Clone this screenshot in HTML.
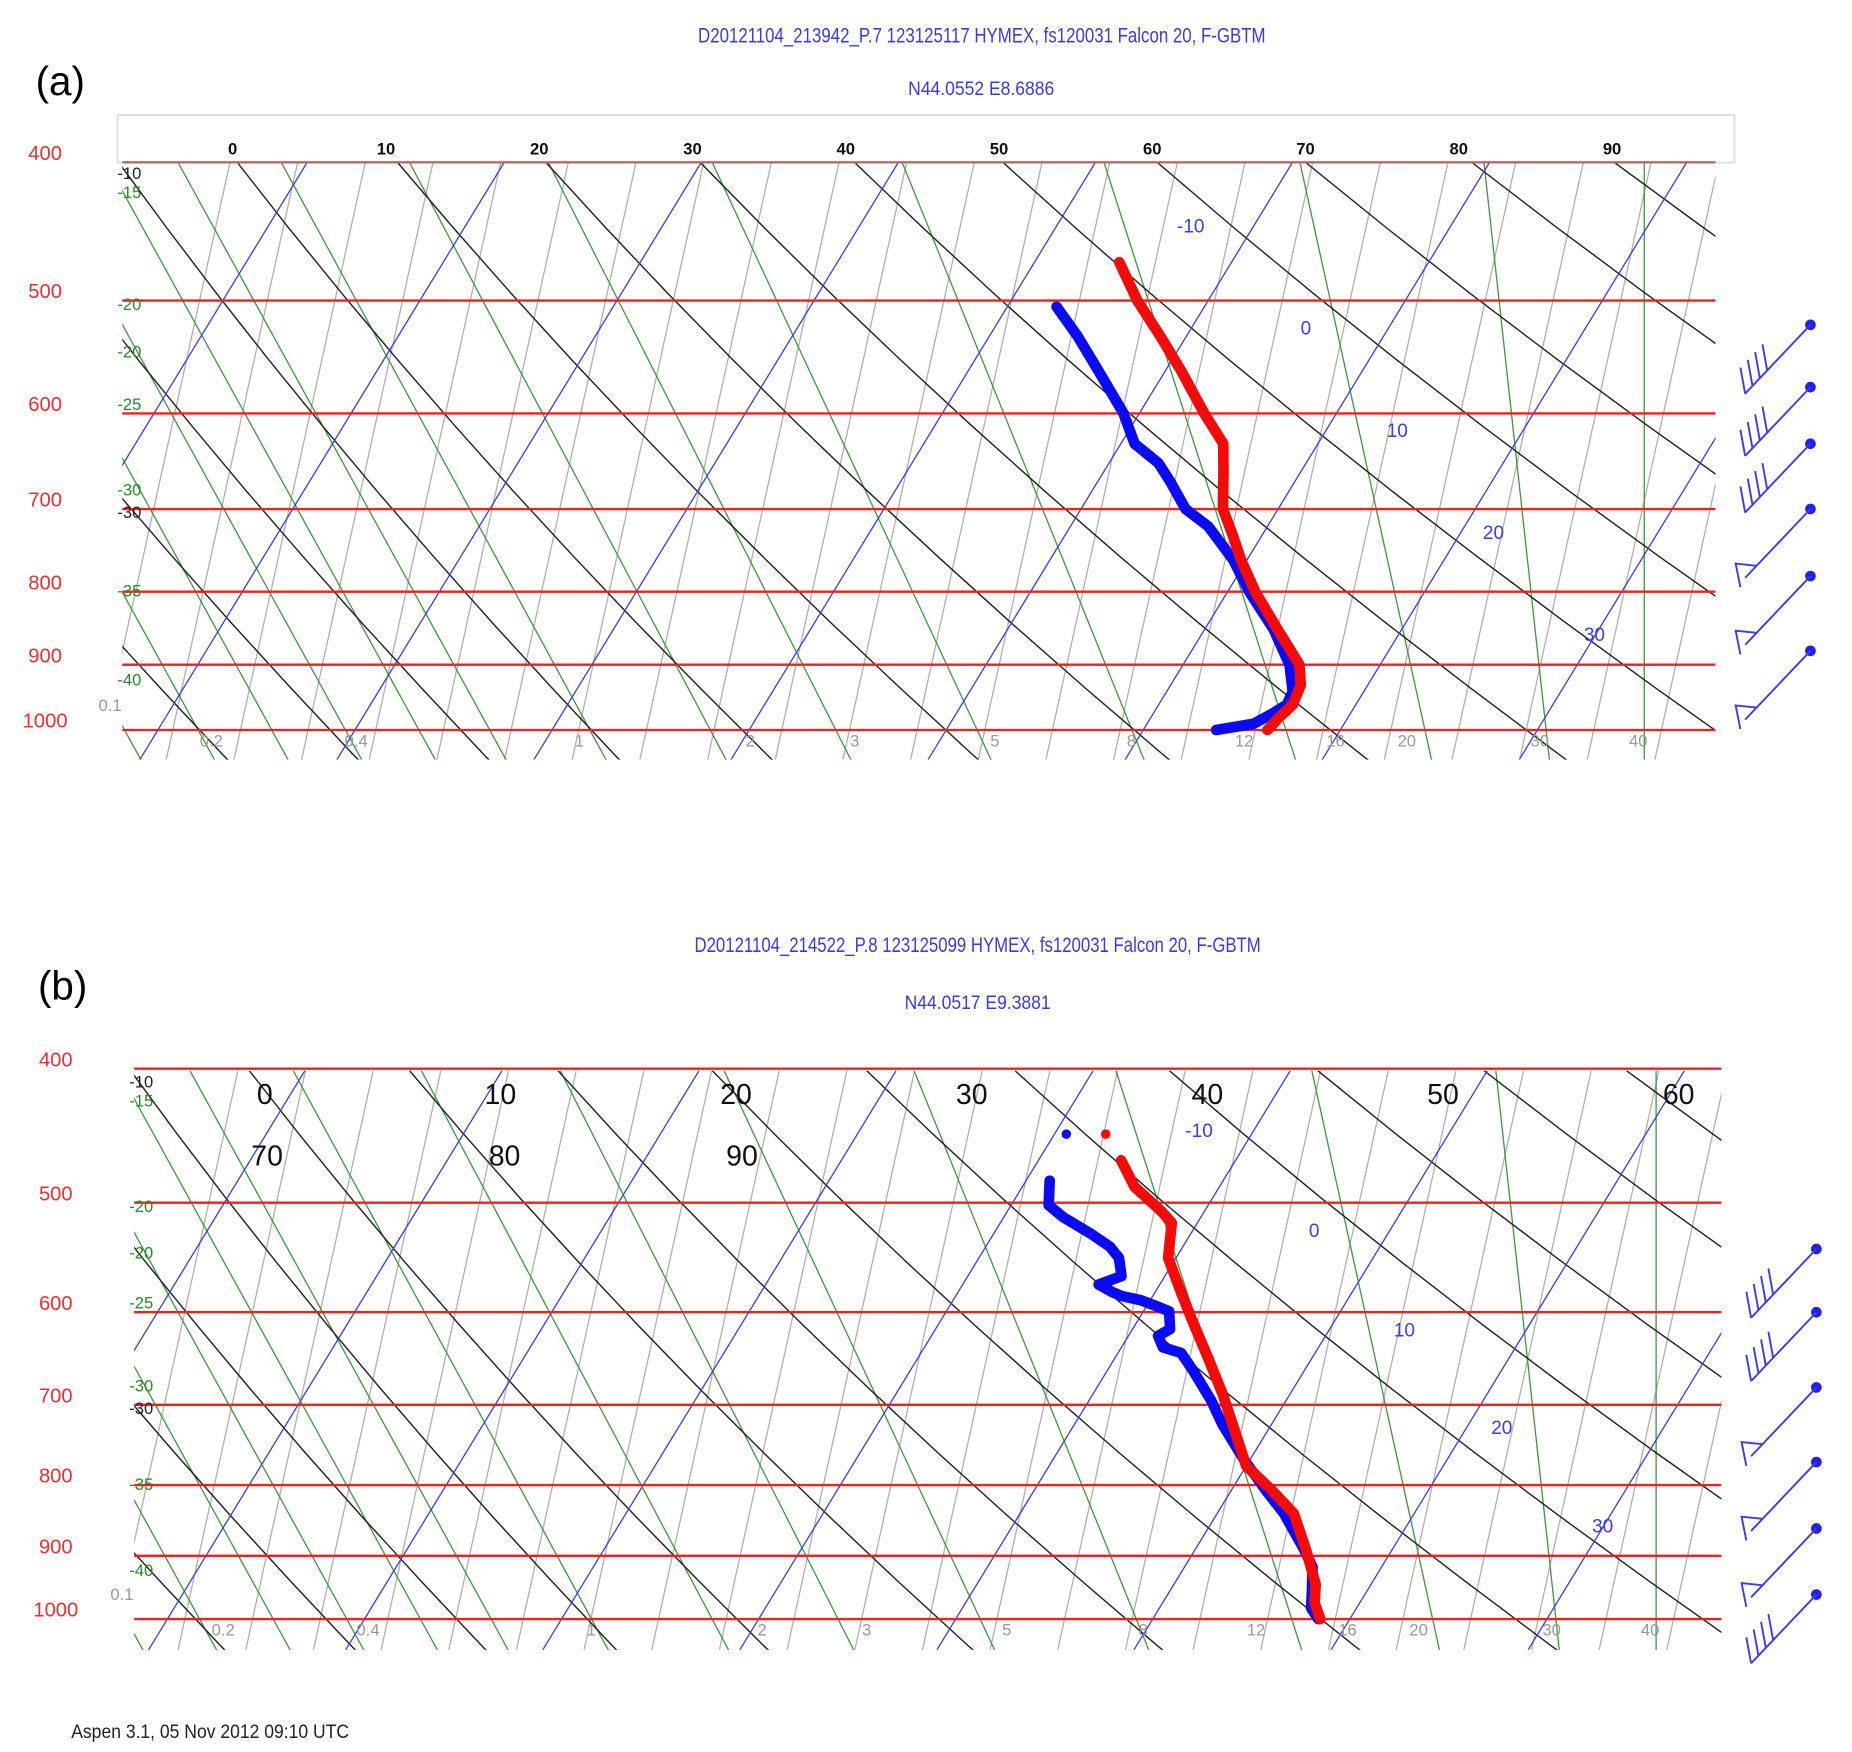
<!DOCTYPE html>
<html><head><meta charset="utf-8">
<style>
html,body{margin:0;padding:0;background:#fff;}
svg{display:block;}
text{font-family:"Liberation Sans",sans-serif;}
</style></head>
<body>
<svg id="fig" xmlns="http://www.w3.org/2000/svg" width="1852" height="1752" viewBox="0 0 1560 1476" preserveAspectRatio="none">
<defs>
<clipPath id="clipA"><rect x="103" y="137" width="1342" height="503"/></clipPath>
<clipPath id="clipB"><rect x="113" y="902" width="1337" height="488"/></clipPath>
</defs>
<rect width="1560" height="1476" fill="#fff"/>
<text x="30" y="80" font-family="Liberation Serif,serif" font-size="34" fill="#000">(a)</text>
<text x="588" y="36" font-size="18" fill="#3a3ae8" textLength="478" lengthAdjust="spacingAndGlyphs">D20121104_213942_P.7 123125117 HYMEX, fs120031 Falcon 20, F-GBTM</text>
<text x="765" y="80" font-size="16" fill="#3a3ae8" textLength="123" lengthAdjust="spacingAndGlyphs">N44.0552 E8.6886</text>
<rect x="99" y="97" width="1362" height="40" fill="#fff" stroke="#ddd" stroke-width="1.5"/>
<g id="gA"></g>
<text x="32" y="842" font-family="Liberation Serif,serif" font-size="34" fill="#000">(b)</text>
<text x="585" y="802" font-size="18" fill="#3a3ae8" textLength="477" lengthAdjust="spacingAndGlyphs">D20121104_214522_P.8 123125099 HYMEX, fs120031 Falcon 20, F-GBTM</text>
<text x="762" y="850" font-size="16" fill="#3a3ae8" textLength="123" lengthAdjust="spacingAndGlyphs">N44.0517 E9.3881</text>
<g id="gB"></g>
<text x="60" y="1464" font-size="16" fill="#222" textLength="234" lengthAdjust="spacingAndGlyphs">Aspen 3.1, 05 Nov 2012  09:10 UTC</text>
</svg>
<script>
// ---------- data ----------
const isobarLevels = [400, 500, 600, 700, 800, 900, 1000];
const mixingLabels = ['0.2','0.4','1','2','3','5','8','12','16','20','30','40'];
const mixingLabelX = [178,300,488,632,720,838,953,1048,1125,1185,1297,1380];
const isothermLabels = [-10, 0, 10, 20, 30];
const adiabatLabels = ['-10','-15','-20','-20','-25','-30','-30','-35','-40'];
const topLabelsA = [0,10,20,30,40,50,60,70,80,90];
const topLabelsB1 = [0,10,20,30,40,50,60];
const topLabelsB2 = [70,80,90];

const tempP_A = [470,500,530,560,600,630,660,700,730,760,800,850,900,930,960,980,1000];
const tempT_A = [-5.7,-3.6,-1.3,0.8,3.3,5.2,6.1,7.2,8.5,9.7,11.4,13.7,15.9,16.6,16.8,16.5,16.3];
const dewP_A = [505,530,560,600,630,650,670,700,720,760,800,850,900,940,960,975,990,1000];
const dewT_A = [-7.5,-5.5,-3.4,-0.8,0.7,2.5,3.7,5.3,7.0,9.3,11.1,13.5,15.4,16.4,16.5,16.0,15.4,13.7];

const tempP_B = [466,487,507,517,548,582,611,649,688,730,775,806,839,890,944,973,1000];
const tempT_B = [-5.8,-4.3,-2.2,-1.3,-0.4,1.4,2.9,4.8,6.6,8.3,10.0,12.0,13.9,15.6,17.2,17.7,18.5];
const dewP_B = [482,502,512,527,538,548,565,573,580,584,588,594,599,617,624,636,642,662,695,723,767,806,839,890,917,954,982,1000];
const dewT_B = [-8.8,-8.1,-7.0,-5.0,-3.7,-2.9,-2.2,-3.1,-2.2,-1.6,-0.5,0.5,1.3,1.9,1.5,2.1,3.2,4.4,6.2,7.5,9.7,11.7,13.4,15.5,16.5,17.2,17.7,18.4];
const topDotP_B = [446];
const topDotTemp_B = [-7.4];
const topDotDew_B = [-9.4];

const windP_A = [520,575,630,700,780,880];
const windBarbs_A = [4,4,4,0,0,0];
const windPennant_A = [0,0,0,1,1,1];
const windP_B = [540,600,680,770,860,960];
const windBarbs_B = [4,4,0,0,0,4];
const windPennant_B = [0,0,1,1,1,0];

const NS = 'http://www.w3.org/2000/svg';
function mk(tag, attrs, parent){const e=document.createElementNS(NS,tag);for(const k in attrs)e.setAttribute(k,attrs[k]);parent.appendChild(e);return e;}

function makePanel(cfg){
  const g = document.getElementById(cfg.gid);
  const yOf = p => cfg.y1000 + cfg.b*Math.log(p/1000);
  const xOf = (T,p) => cfg.x0 + 16.6*T + 0.61*(cfg.y1000 - yOf(p));
  const L=cfg.xL,R=cfg.xR,T0=cfg.yT,B=cfg.yB,H=B-T0;
  const grid = mk('g',{'clip-path':'url(#'+cfg.clip+')'},g);
  
  
  for(let xb=L-20; xb<R+140; xb+=57){
    const l=mk('line',{x1:xb,y1:B,x2:xb+0.22*H,y2:T0,stroke:'#b0b0b0','stroke-width':1.1},grid);
    
    
  }
  const greenTops=[150,237,345,462,600,760,930,1095,1250,1385];
  for(let t=90;t>-900;t-=62) greenTops.unshift(t);
  greenTops.forEach(t0=>{
    const t=t0+cfg.dx;
    const s = t0<100?0.55:0.55-0.55*Math.pow((t0-100)/1285,2);
    const l=mk('line',{x1:t,y1:T0,x2:t+s*(H*1.05),y2:T0+H*1.05,stroke:'#3c9a3c','stroke-width':1.1},grid);
    
    
  });
  const blackTops=[200,335,460,590,720,845,975,1100,1240,1360];
  for(let t=100;t>-1100;t-=110) blackTops.unshift(t);
  blackTops.forEach(t0=>{
    const t=t0+cfg.dx;
    const s=0.85+0.75*Math.max(0,t0-100)/1300;
    const pts=[];
    for(let i=0;i<=10;i++){const yy=T0+H*1.1*i/10;const k=i/10;pts.push((t+(s*(1-0.15*(1-k)))*(yy-T0)).toFixed(1)+','+yy.toFixed(1));}
    const l=mk('polyline',{points:pts.join(' '),fill:'none',stroke:'#222','stroke-width':1.2},grid);
    
    
  });
  for(let T=-60;T<=50;T+=10){
    const xb=cfg.x0+16.6*T;
    const l=mk('line',{x1:xb-0.61*(B-cfg.y1000),y1:B,x2:xb+0.61*(cfg.y1000-T0),y2:T0,stroke:'#3b3bf0','stroke-width':1.1},grid);
    
    
  }
  isobarLevels.forEach(p=>{
    const y=yOf(p);
    const l=mk('line',{x1:L,y1:y,x2:R,y2:y,stroke:(cfg.gid==='gA'&&p===400)?'#b86a6a':'#f02020','stroke-width':2},g);
    
    
    const t=mk('text',{x:cfg.pLabX,y:y-2,'font-size':17,fill:'#f03030','text-anchor':'middle'},g);
    t.textContent=p;
    
    
  });
  const adY=[cfg.yT+14,cfg.yT+30,yOf(500)+8,yOf(540)+8,yOf(600)-3,yOf(690)-4,yOf(705)+4,yOf(800)+4,yOf(920)+6];
  adiabatLabels.forEach((s,i)=>{
    const t=mk('text',{x:L+6,y:adY[i],'font-size':14,fill:(i%2===1||i===2||i===4||i===7||i===8)?'#2a8a2a':'#222','text-anchor':'middle'},g);
    t.textContent=s;
    
    
  });
  const ml=mk('text',{x:L-20,y:cfg.y1000-16,'font-size':14,fill:'#999'},g);ml.textContent='0.1';
  
  
  mixingLabels.forEach((s,i)=>{
    const t=mk('text',{x:mixingLabelX[i]+cfg.dx,y:cfg.y1000+14,'font-size':14,fill:'#999','text-anchor':'middle'},g);
    t.textContent=s;
    
    
  });
  isothermLabels.forEach((v,i)=>{
    const t=mk('text',{x:cfg.isoLabX[i],y:cfg.isoLabY[i],'font-size':16,fill:'#3b3bf0','text-anchor':'middle'},g);
    t.textContent=v;
    
    
  });
  function profile(P,T,color,name){
    const pts=P.map((p,i)=>xOf(T[i],p).toFixed(1)+','+yOf(p).toFixed(1)).join(' ');
    const l=mk('polyline',{points:pts,fill:'none',stroke:color,'stroke-width':9,'stroke-linejoin':'round','stroke-linecap':'round'},g);
    
    
  }
  profile(cfg.dewP,cfg.dewT,'#0a0af5','dewpoint-profile');
  profile(cfg.tP,cfg.tT,'#f50a0a','temperature-profile');
  if(cfg.dotP){
    cfg.dotP.forEach((p,i)=>{
      const c1=mk('circle',{cx:xOf(cfg.dotT[i],p),cy:yOf(p),r:4,fill:'#f50a0a'},g);
      
      
      const c2=mk('circle',{cx:xOf(cfg.dotD[i],p),cy:yOf(p),r:4,fill:'#0a0af5'},g);
      
      
    });
  }
  cfg.wP.forEach((p,i)=>{
    const y=yOf(p), x=cfg.barbX;
    const wg=mk('g',{stroke:'#3b3bf0','stroke-width':1.6,fill:'none'},g);
    
    
    mk('circle',{cx:x,cy:y,r:4.5,fill:'#2020f0',stroke:'none'},wg);
    const ex=x-55, ey=y+58;
    mk('line',{x1:x,y1:y,x2:ex,y2:ey},wg);
    const len=Math.hypot(x-ex,y-ey);
    const ux=(x-ex)/len, uy=(y-ey)/len;
    for(let k=0;k<cfg.wB[i];k++){
      const bx=ex+ux*k*9, by=ey+uy*k*9;
      mk('line',{x1:bx,y1:by,x2:bx-4,y2:by-22},wg);
    }
    if(cfg.wF[i]){
      const bx=ex+ux*14, by=ey+uy*14;
      mk('polyline',{points:`${bx},${by} ${ex-8},${ey-12} ${ex-4},${ey+8}`},wg);
    }
  });
  cfg.topLabels.forEach(o=>{
    const t=mk('text',{x:o.x,y:o.y,'font-size':o.fs,fill:'#111','text-anchor':'middle','font-weight':o.fw||'normal'},g);
    t.textContent=o.v;
    
    
  });
}

const topA = topLabelsA.map((v,i)=>({v:v,x:196+129.1*i,y:130,fs:14,fw:'bold'}));
const topB = topLabelsB1.map((v,i)=>({v:v,x:223+198.5*i,y:930,fs:24})).concat(topLabelsB2.map((v,i)=>({v:v,x:225+200*i,y:982,fs:24})));

makePanel({gid:'gA',clip:'clipA',y1000:615,b:522,x0:797,dx:0,xL:103,xR:1445,yT:137,yB:640,pLabX:38,
  tP:tempP_A,tT:tempT_A,dewP:dewP_A,dewT:dewT_A,wP:windP_A,wB:windBarbs_A,wF:windPennant_A,barbX:1525,
  isoLabX:[1003,1100,1177,1258,1343],isoLabY:[196,282,368,454,540],topLabels:topA});
makePanel({gid:'gB',clip:'clipB',y1000:1364,b:506,x0:805,dx:10,xL:113,xR:1450,yT:902,yB:1390,pLabX:47,
  tP:tempP_B,tT:tempT_B,dewP:dewP_B,dewT:dewT_B,dotP:topDotP_B,dotT:topDotTemp_B,dotD:topDotDew_B,
  wP:windP_B,wB:windBarbs_B,wF:windPennant_B,barbX:1530,
  isoLabX:[1010,1107,1183,1265,1350],isoLabY:[958,1042,1126,1208,1291],topLabels:topB});
</script>
</body></html>
